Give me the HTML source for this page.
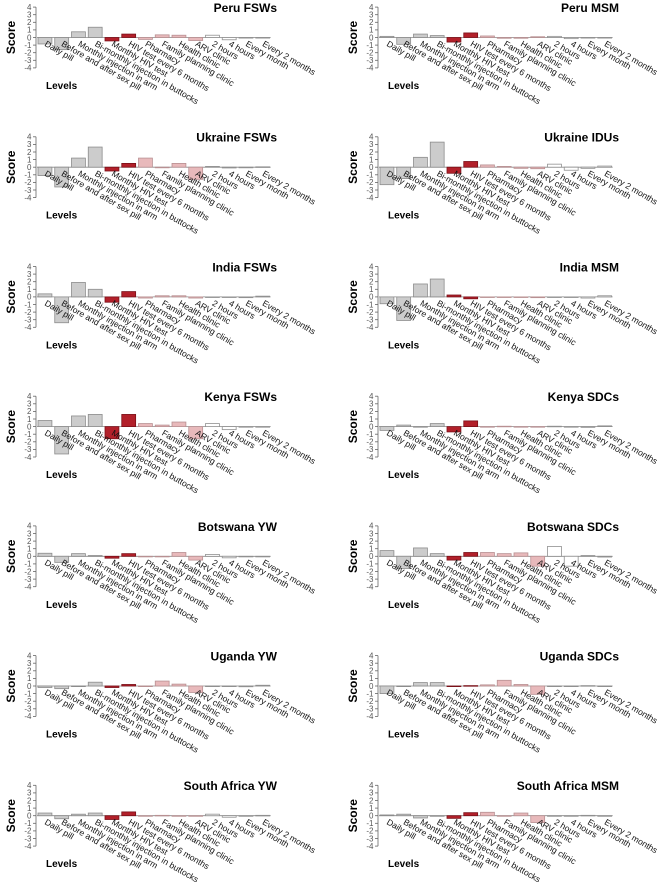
<!DOCTYPE html>
<html><head><meta charset="utf-8"><style>
html,body{margin:0;padding:0;background:#fff;}
svg{display:block;font-family:"Liberation Sans",Arial,sans-serif;}
</style></head><body>
<svg id="chart" width="662" height="882" viewBox="0 0 662 882"></svg>
<script>
const categories=["Daily pill","Before and after sex pill","Monthly injection in arm","Bi-monthly injection in buttocks","Monthly HIV test","HIV test every 6 months","Pharmacy","Family planning clinic","Health clinic","ARV clinic","2 hours","4 hours","Every month","Every 2 months"];
const panelTitles=["Peru FSWs","Peru MSM","Ukraine FSWs","Ukraine IDUs","India FSWs","India MSM","Kenya FSWs","Kenya SDCs","Botswana YW","Botswana SDCs","Uganda YW","Uganda SDCs","South Africa YW","South Africa MSM"];
const peruFSW=[-0.85,-1.6,0.75,1.35,-0.45,0.45,-0.25,0.35,0.3,-0.4,0.3,-0.3,0,0];
const peruMSM=[0.15,-0.9,0.45,0.25,-0.6,0.6,0.2,-0.1,-0.1,0.1,0.15,-0.15,0,0];
const ukraineFSW=[-1.1,-2.6,1.2,2.65,-0.5,0.5,1.2,0,0.5,-1.6,0.1,-0.1,-0.05,0.05];
const ukraineIDU=[-2.3,-1.5,1.3,3.3,-0.8,0.75,0.3,0.1,-0.15,-0.2,0.4,-0.4,-0.15,0.15];
const indiaFSW=[0.4,-3.4,1.9,1.0,-0.7,0.7,-0.15,0.15,0.15,-0.15,0,0,-0.1,0.1];
const indiaMSM=[-0.9,-3.1,1.7,2.35,0.25,-0.25,0,0,0,-0.1,0,0,-0.15,0.15];
const kenyaFSW=[0.8,-3.6,1.4,1.6,-1.6,1.6,0.4,0.2,0.6,-1.6,0.4,-0.4,0,0];
const kenyaSDC=[-0.5,0.2,-0.05,0.4,-0.7,0.75,0,0.05,0,0,0.05,-0.05,-0.1,0.1];
const botswanaYW=[0.4,-0.8,0.35,0.1,-0.25,0.35,0,0,0.5,-0.5,0.25,-0.2,0,0];
const botswanaSDC=[0.75,-1.6,1.1,0.35,-0.5,0.5,0.5,0.35,0.45,-1.3,1.3,-1.3,0.1,-0.1];
const ugandaYW=[-0.2,-0.35,0,0.5,-0.2,0.2,-0.05,0.65,0.25,-0.85,0,0,-0.1,0.1];
const ugandaSDC=[-1.0,0,0.45,0.45,-0.05,0.05,0.15,0.75,0.2,-1.1,0,0,0.05,-0.05];
const southAfricaYW=[0.35,-0.4,0.2,0.35,-0.5,0.5,0,0.05,0,-0.05,0.2,-0.2,-0.05,0.05];
const southAfricaMSM=[0.1,0.2,-0.3,0,-0.35,0.4,0.45,0,0.35,-0.9,0,0,0.05,-0.05];
const yTicks=[4,3,2,1,0,-1,-2,-3,-4];
const panelValues=[peruFSW,peruMSM,ukraineFSW,ukraineIDU,indiaFSW,indiaMSM,kenyaFSW,kenyaSDC,botswanaYW,botswanaSDC,ugandaYW,ugandaSDC,southAfricaYW,southAfricaMSM];

const NS="http://www.w3.org/2000/svg";
const svg=document.getElementById('chart');
function mk(tag,attrs,parent){const e=document.createElementNS(NS,tag);for(const k in attrs)e.setAttribute(k,attrs[k]);parent.appendChild(e);return e;}
function fillFor(i){if(i<4)return ["#cccccc","#8c8c8c"];if(i<6)return ["#b2202a","#7a1018"];if(i<10)return ["#e8b9bb","#b89092"];return ["#ffffff","#909090"];}

panelValues.forEach((vals,p)=>{
  const col=p%2,row=Math.floor(p/2);
  const ox=col*342, oy=row*129.7;
  const g=mk('g',{transform:`translate(${ox},${oy})`},svg);
  
  
  const axX=36, unit=7.6, zeroY=37.5;
  const yS=v=>zeroY-v*unit;
  const slot=16.75, bw=13.9, x0=38;
  const xS=i=>x0+i*slot;
  const ax=mk('line',{x1:axX,x2:axX,y1:yS(4),y2:yS(-4),stroke:'#666','stroke-width':0.8},g);
  
  
  yTicks.forEach(t=>{
    mk('line',{x1:axX-3,x2:axX,y1:yS(t),y2:yS(t),stroke:'#666','stroke-width':0.8},g);
    const tl=mk('text',{x:axX-4.5,y:yS(t)+2.8,'font-size':8,'text-anchor':'end',fill:'#555'},g);
    tl.textContent=String(t);
    
    
  });
  const sc=mk('text',{x:0,y:0,'font-size':12,'font-weight':'bold','text-anchor':'middle',transform:`translate(15,${zeroY}) rotate(-90)`},g);
  sc.textContent='Score';
  
  
  mk('line',{x1:axX+1,x2:xS(13)+bw+1,y1:zeroY,y2:zeroY,stroke:'#888','stroke-width':0.8},g);
  vals.forEach((v,i)=>{
    const [f,s]=fillFor(i);
    const y=Math.min(yS(v),zeroY), h=Math.abs(yS(v)-zeroY);
    const r=mk('rect',{x:xS(i),y:y,width:bw,height:Math.max(h,0.6),fill:f,stroke:s,'stroke-width':0.8},g);
    
    
  });
  categories.forEach((c,i)=>{
    const cx=xS(i)+bw/2;
    const t=mk('text',{x:0,y:0,'font-size':8.6,fill:'#111',transform:`translate(${cx-1},${zeroY+8}) rotate(30)`},g);
    t.textContent=c;
    
    
  });
  const tt=mk('text',{x:277,y:12,'font-size':12,'font-weight':'bold','text-anchor':'end'},g);
  tt.textContent=panelTitles[p];
  
  
  const lv=mk('text',{x:46,y:89,'font-size':10,'font-weight':'bold'},g);
  lv.textContent='Levels';
  
  
});
</script>
</body></html>
